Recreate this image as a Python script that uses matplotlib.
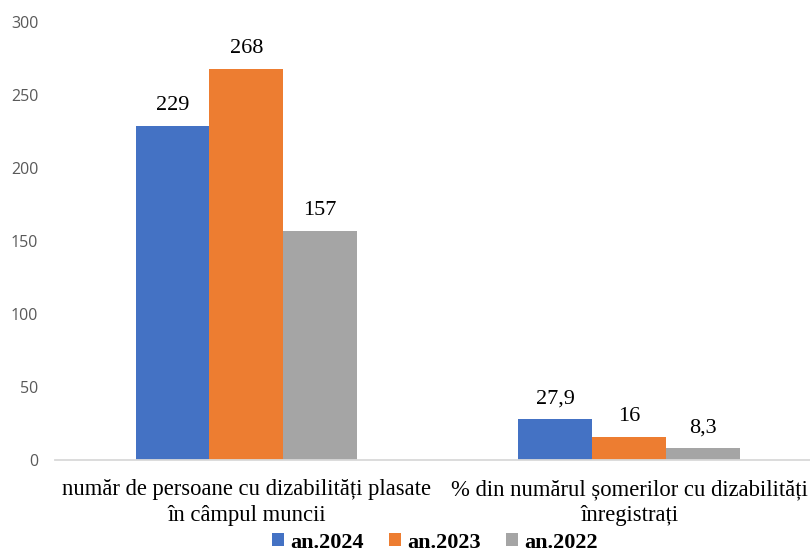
import matplotlib
matplotlib.use("Agg")
import matplotlib.pyplot as plt
import numpy as np

categories = ["număr de persoane cu dizabilități plasate\nîn câmpul muncii",
              "% din numărul șomerilor cu dizabilități\nînregistrați"]
series_names = ["an.2024", "an.2023", "an.2022"]
v2024 = [229, 27.9]
v2023 = [268, 16]
v2022 = [157, 8.3]
labels2024 = ["229", "27,9"]
labels2023 = ["268", "16"]
labels2022 = ["157", "8,3"]
colors = ["#4472C4", "#ED7D31", "#A5A5A5"]

fig = plt.figure(figsize=(8.1, 5.53), dpi=100)
ax = fig.add_axes([55/810, 93/553, 755/810, 438/553])

x = np.arange(len(categories))
w = 0.193
serif = "Liberation Serif"
for i, (vals, labs) in enumerate(zip([v2024, v2023, v2022], [labels2024, labels2023, labels2022])):
    bars = ax.bar(x + (i - 1) * w, vals, w, color=colors[i], label=series_names[i], zorder=2)
    for b, lab in zip(bars, labs):
        ax.annotate(lab, (b.get_x() + b.get_width() / 2, b.get_height()),
                    xytext=(0, 7.5), textcoords="offset points", ha="center", va="bottom",
                    fontsize=16, family=serif, color="#000000")

ax.set_ylim(0, 300)
ax.set_xlim(-0.5, 1.473)
ax.set_yticks(range(0, 301, 50))
ax.set_xticks(x)
ax.set_xticklabels(categories, fontsize=16.3, family=serif, linespacing=1.3)
for s in ["top", "right", "left"]:
    ax.spines[s].set_visible(False)
ax.spines["bottom"].set_color("#D9D9D9")
ax.spines["bottom"].set_linewidth(1.3)
ax.tick_params(axis="y", length=0, pad=12, labelsize=11.5, labelcolor="#595959")
for t in ax.get_yticklabels():
    t.set_family("Open Sans")
ax.tick_params(axis="x", length=0, pad=14)

leg = fig.legend(loc="center", bbox_to_anchor=(435/810, 1 - 542.5/553), ncol=3, frameon=False,
                 prop={"family": serif, "weight": "bold", "size": 16},
                 handlelength=0.55, handleheight=0.55, handletextpad=0.3, columnspacing=1.1,
                 borderpad=0.05)

fig.savefig("out.png", dpi=100)
